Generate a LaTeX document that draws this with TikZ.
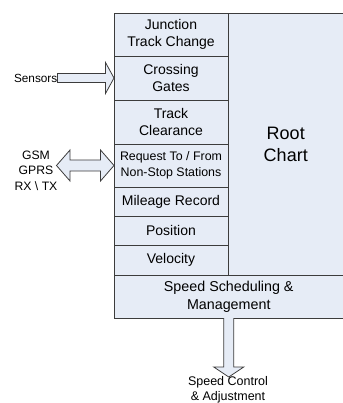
\documentclass[tikz,border=0pt]{standalone}
\usepackage{fontspec}
\setmainfont{Liberation Sans}
\usetikzlibrary{calc}
\definecolor{cellfill}{RGB}{230,236,246}
\definecolor{edge}{RGB}{60,60,60}
\begin{document}
\begin{tikzpicture}[x=1pt,y=-1pt,
  cell/.style={draw=edge, fill=cellfill, line width=0.9pt, inner sep=0pt,
    outer sep=0pt, anchor=north west, align=center,
    font=\fontsize{14}{17}\selectfont},
  lbl/.style={inner sep=0pt, align=center},
  blockarrow/.style={draw=edge, fill=cellfill, line width=0.8pt, line join=miter}]
\useasboundingbox (0,0) rectangle (342,403);

% left column of sub-charts
\node[cell, minimum width=114pt, minimum height=43pt] (jtc) at (114,13) {Junction\\Track Change};
\node[cell, minimum width=114pt, minimum height=44pt] (cg)  at (114,56) {Crossing\\Gates};
\node[cell, minimum width=114pt, minimum height=44pt] (tc)  at (114,100) {Track\\Clearance};
\node[cell, minimum width=114pt, minimum height=43pt, font=\fontsize{12.4}{15.6}\selectfont] (req) at (114,144) {Request To / From\\Non-Stop Stations};
\node[cell, minimum width=114pt, minimum height=29pt] (mil) at (114,187) {Mileage Record};
\node[cell, minimum width=114pt, minimum height=29pt] (pos) at (114,216) {Position};
\node[cell, minimum width=114pt, minimum height=30pt] (vel) at (114,245) {Velocity};

% root chart and bottom bar
\node[cell, minimum width=115.5pt, minimum height=262pt, font=\fontsize{18}{22}\selectfont] (root) at (228,13) {Root\\Chart};
\node[cell, minimum width=229.5pt, minimum height=43pt, font=\fontsize{14.3}{17.7}\selectfont] (ssm) at (114,275) {Speed Scheduling \&\\Management};

% external labels
\node[lbl, anchor=east, font=\fontsize{11.8}{14}\selectfont] (sens) at (57.5,78) {Sensors};
\node[lbl, font=\fontsize{12.2}{15.5}\selectfont] (gsm) at (36,170.5) {GSM\\GPRS\\RX \textbackslash\ TX};
\coordinate (gsmtip) at (56.5,165.5);
\coordinate (outtip) at ($(ssm.south)+(0,59)$);
\node[lbl, font=\fontsize{12.5}{14.7}\selectfont] (ctl) at (228,390) {Speed Control\\\& Adjustment};

% sensors input arrow
\draw[blockarrow] (cg.west) -- ++(-8.5,-15.5) -- ++(0,11)
  -- ($(sens.east)+(0,-4.5)$) -- ($(sens.east)+(0,4.5)$)
  -- ($(cg.west)+(-8.5,4.5)$) -- ++(0,11) -- cycle;

% two-way radio link
\draw[blockarrow] (gsmtip) -- ++(13.5,-15.5) -- ++(0,10)
  -- ($(req.west)+(-13.5,-5.5)$) -- ++(0,-10) -- (req.west)
  -- ++(-13.5,15.5) -- ++(0,-10)
  -- ($(gsmtip)+(13.5,5.5)$) -- ++(0,10) -- cycle;

% output arrow
\draw[blockarrow] ($(ssm.south)+(-5,0)$) -- ++(0,49) -- ++(-10,0) -- (outtip)
  -- ++(15,-10) -- ++(-10,0) -- ($(ssm.south)+(5,0)$);
\end{tikzpicture}
\end{document}
